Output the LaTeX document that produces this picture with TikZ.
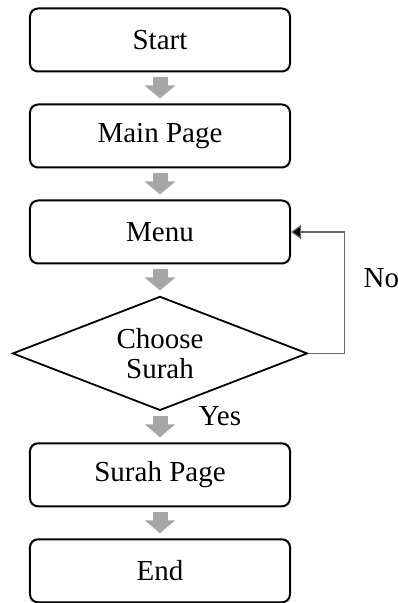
\documentclass[tikz,border=0pt]{standalone}
\usepackage{fontspec}
\setmainfont{Liberation Serif}
\usepackage{tikz}
\usetikzlibrary{positioning,shapes.geometric,arrows.meta}

\begin{document}
\begin{tikzpicture}[
		node distance=15.5pt,
		font=\fontsize{14.5}{15}\selectfont,
		procbox/.style={draw, line width=1pt, rounded corners=4pt, minimum width=130pt, minimum height=31.5pt},
		choicebox/.style={draw, line width=0.9pt, diamond, aspect=2.6, inner sep=0pt, minimum width=147.5pt, minimum height=57pt, align=center},
		flowarrow/.style={draw=black!35, line width=7.5pt, shorten <=2.5pt, shorten >=2.5pt, -{Triangle[width=15pt, length=6.5pt]}},
		backline/.style={draw=black!60, line width=0.6pt, -{Triangle[width=7pt, length=5pt, fill=black]}}
	]
		\useasboundingbox (-80pt,20pt) rectangle (118.5pt,-281.5pt);

		\node[procbox] (start) at (0,0) {Start};
		\node[procbox, below=of start] (mainpage) {Main Page};
		\node[procbox, below=of mainpage] (menu) {Menu};
		\node[choicebox, below=of menu] (choose) {Choose\\Surah};
		\node[procbox, below=of choose] (surahpage) {Surah Page};
		\node[procbox, below=of surahpage] (end) {End};

		\draw[flowarrow] (start) -- (mainpage);
		\draw[flowarrow] (mainpage) -- (menu);
		\draw[flowarrow] (menu) -- (choose);
		\draw[flowarrow] (choose) -- (surahpage);
		\draw[flowarrow] (surahpage) -- (end);

		\draw[backline] (choose.east) -- ++(18pt,0) |- node[pos=0.31, right=6pt] (no) {No} (menu.east);

		\node (yes) at ([xshift=30pt, yshift=-2.5pt]choose.south) {Yes};

\end{tikzpicture}
\end{document}
